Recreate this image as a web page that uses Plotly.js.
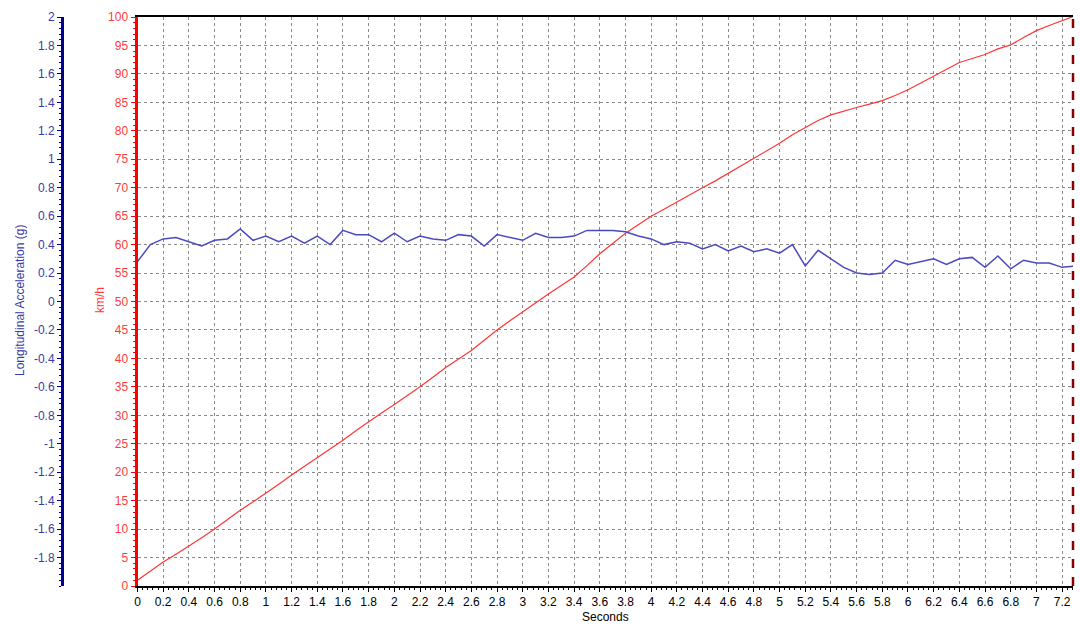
<!DOCTYPE html>
<html>
<head>
<meta charset="utf-8">
<script src="https://cdn.plot.ly/plotly-3.0.1.min.js"></script>
<style>html,body{margin:0;padding:0;background:#fff;}#chart{width:1080px;height:632px;}</style>
</head>
<body>
<div id="chart"></div>
<script>
// Time (s)
var timeSec = [0,0.1,0.2,0.3,0.4,0.5,0.6,0.7,0.8,0.9,1.0,1.1,1.2,1.3,1.4,1.5,1.6,1.7,1.8,1.9,
  2.0,2.1,2.2,2.3,2.4,2.5,2.6,2.7,2.8,2.9,3.0,3.1,3.2,3.3,3.4,3.5,3.6,3.7,3.8,3.9,
  4.0,4.1,4.2,4.3,4.4,4.5,4.6,4.7,4.8,4.9,5.0,5.1,5.2,5.3,5.4,5.5,5.6,5.7,5.8,5.9,
  6.0,6.1,6.2,6.3,6.4,6.5,6.6,6.7,6.8,6.9,7.0,7.1,7.2,7.3];
// Speed (km/h)
var speedKmh = [1.0,2.6,4.2,5.6,7.0,8.5,10.0,11.7,13.3,14.8,16.3,17.9,19.5,21.0,22.5,24.0,25.6,27.3,28.9,30.4,
  31.9,33.4,35.0,36.7,38.4,39.9,41.4,43.2,45.0,46.6,48.2,49.8,51.3,52.8,54.3,56.3,58.4,60.2,62.0,63.5,
  65.0,66.2,67.5,68.8,70.0,71.2,72.5,73.8,75.1,76.5,77.8,79.3,80.6,81.8,82.8,83.5,84.1,84.7,85.3,86.2,
  87.2,88.4,89.6,90.9,92.0,92.7,93.4,94.4,95.1,96.4,97.6,98.5,99.4,100.2];
// Longitudinal acceleration (g)
var accelG = [0.28,0.40,0.44,0.45,0.42,0.39,0.43,0.44,0.51,0.43,0.46,0.42,0.46,0.41,0.46,0.40,0.50,0.47,0.47,0.42,
  0.48,0.42,0.46,0.44,0.43,0.47,0.46,0.39,0.47,0.45,0.43,0.48,0.45,0.45,0.46,0.50,0.50,0.50,0.49,0.46,
  0.44,0.40,0.42,0.41,0.37,0.40,0.355,0.39,0.35,0.37,0.34,0.40,0.25,0.36,0.30,0.24,0.20,0.19,0.20,0.29,
  0.26,0.28,0.30,0.26,0.30,0.31,0.24,0.32,0.23,0.29,0.27,0.27,0.24,0.25];
// Tick labels for acceleration axis
var accelTickVals = [2,1.8,1.6,1.4,1.2,1,0.8,0.6,0.4,0.2,0,-0.2,-0.4,-0.6,-0.8,-1,-1.2,-1.4,-1.6,-1.8];
var accelTickText = ["2","1.8","1.6","1.4","1.2","1","0.8","0.6","0.4","0.2","0","-0.2","-0.4","-0.6","-0.8","-1","-1.2","-1.4","-1.6","-1.8"];

var FONT = "Liberation Sans, Arial, sans-serif";
var BLUE_TXT = "#3a3aa6";
var RED_TXT = "#ff3b3b";

var traces = [
  {x: timeSec, y: speedKmh, type: "scatter", mode: "lines", yaxis: "y",
   line: {color: "#ff3535", width: 1.2}, hoverinfo: "none"},
  {x: timeSec, y: accelG, type: "scatter", mode: "lines", yaxis: "y2",
   line: {color: "#4a4ac0", width: 1.5}, hoverinfo: "none"}
];

var ML = 10, MR = 7, MT = 17, MB = 46;
var W = 1080 - ML - MR, H = 632 - MT - MB;
var plotLeft = 137.5, blueAxisX = 62;

var layout = {
  width: 1080, height: 632,
  margin: {l: ML, r: MR, t: MT, b: MB, pad: 0},
  paper_bgcolor: "#ffffff", plot_bgcolor: "#ffffff",
  showlegend: false,
  font: {family: FONT, size: 12, color: "#000"},
  xaxis: {
    domain: [(plotLeft - ML) / W, 1],
    range: [0, 7.285], dtick: 0.2, tick0: 0,
    showgrid: true, gridcolor: "#8a8a8a", gridwidth: 1, griddash: "3px,3px",
    zeroline: false, showline: true, linecolor: "#000", linewidth: 2, mirror: true,
    ticks: "outside", ticklen: 4, tickcolor: "#000", tickwidth: 1,
    minor: {dtick: 0.04, ticks: "outside", ticklen: 2, tickcolor: "#000", showgrid: false},
    tickfont: {family: FONT, size: 12, color: "#000"},
    fixedrange: true
  },
  yaxis: {
    range: [0, 100], dtick: 5, tick0: 0,
    showgrid: true, gridcolor: "#8a8a8a", gridwidth: 1, griddash: "3px,3px",
    zeroline: false, showline: true, linecolor: "#ff0000", linewidth: 3,
    ticks: "outside", ticklen: 4, tickcolor: "#ff0000", tickwidth: 1,
    minor: {dtick: 1, ticks: "outside", ticklen: 2, tickcolor: "#ff0000", showgrid: false},
    tickfont: {family: FONT, size: 12, color: RED_TXT},
    fixedrange: true
  },
  yaxis2: {
    overlaying: "y", side: "left", anchor: "free", position: (blueAxisX - ML) / W,
    range: [-2, 2], tickmode: "array", tickvals: accelTickVals, ticktext: accelTickText,
    showgrid: false, zeroline: false, showline: true, linecolor: "#00008b", linewidth: 2.5,
    ticks: "outside", ticklen: 4, tickcolor: "#00008b", tickwidth: 1,
    minor: {dtick: 0.04, ticks: "outside", ticklen: 2, tickcolor: "#00008b", showgrid: false},
    tickfont: {family: FONT, size: 12, color: BLUE_TXT},
    fixedrange: true
  },
  shapes: [
    {type: "line", xref: "paper", yref: "paper", x0: 1, x1: 1, y0: 0, y1: 1,
     line: {color: "#8b0000", width: 2.5, dash: "dash"}}
  ],
  annotations: [
    {text: "Longitudinal Acceleration (g)", xref: "paper", yref: "paper",
     x: (20 - ML) / W, y: (586 - 301) / H, xanchor: "center", yanchor: "middle",
     textangle: -90, showarrow: false, font: {family: FONT, size: 12, color: BLUE_TXT}},
    {text: "km/h", xref: "paper", yref: "paper",
     x: (100 - ML) / W, y: (586 - 300) / H, xanchor: "center", yanchor: "middle",
     textangle: -90, showarrow: false, font: {family: FONT, size: 12, color: RED_TXT}},
    {text: "Seconds", xref: "paper", yref: "paper",
     x: (605 - ML) / W, y: (586 - 617) / H, xanchor: "center", yanchor: "middle",
     showarrow: false, font: {family: FONT, size: 12, color: "#000"}}
  ]
};

Plotly.newPlot("chart", traces, layout, {staticPlot: true, displayModeBar: false});
</script>
</body>
</html>
